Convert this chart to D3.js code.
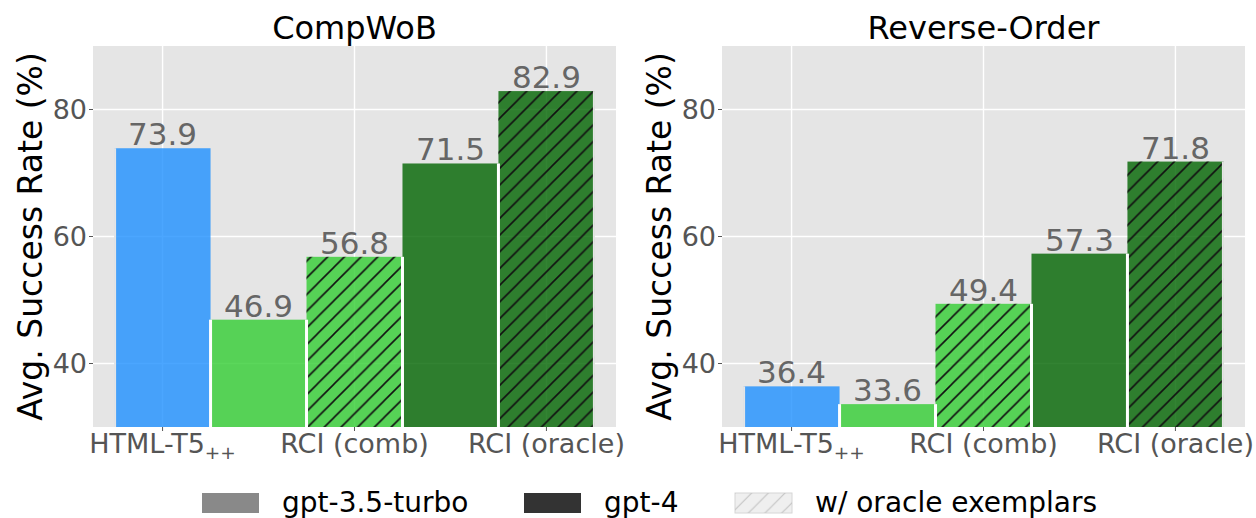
<!DOCTYPE html>
<html>
  <head>
    <meta charset="utf-8">
    <title>CompWoB vs Reverse-Order</title>
    <script src="https://d3js.org/d3.v7.min.js"></script>
    <style>
      body { margin: 0; background: #fff; }
      text { font-family: "DejaVu Sans", sans-serif; }
    </style>
  </head>
  <body>
  <div id="chart"></div>
  <script>

  // bars, in drawing order
  var bars = ["HTML-T5++", "RCI gpt-3.5 (comb)", "RCI gpt-3.5 (oracle)", "RCI gpt-4 (comb)", "RCI gpt-4 (oracle)"];
  var compwob = [73.9, 46.9, 56.8, 71.5, 82.9];
  var reverseOrder = [36.4, 33.6, 49.4, 57.3, 71.8];
  var barColors = ["#1e90ff", "#32cd32", "#32cd32", "#006400", "#006400"];
  var hatched = [false, false, true, false, true];

  var panelTitles = ["CompWoB", "Reverse-Order"];
  var tickPos = [0, 2, 4];
  var tickLabels = ["HTML-T5", "RCI (comb)", "RCI (oracle)"];
  var tickSubs = ["++", "", ""];
  var yTicks = [40, 60, 80];
  var legendLabels = ["gpt-3.5-turbo", "gpt-4", "w/ oracle exemplars"];

  var width = 1256, height = 518;
  var plotTop = 46, plotBottom = 427, plotW = 523;
  var panelLeft = [93, 722];

  var svg = d3.select("#chart").append("svg")
      .attr("width", width)
      .attr("height", height);

  var defs = svg.append("defs");
  // "/" hatch, about 17px apart horizontally
  var pat = defs.append("pattern")
      .attr("id", "hatch")
      .attr("patternUnits", "userSpaceOnUse")
      .attr("width", 16.7).attr("height", 16.7);
  pat.append("path")
      .attr("d", "M-2,2 L2,-2 M0,16.7 L16.7,0 M14.7,18.7 L18.7,14.7")
      .attr("stroke", "#111").attr("stroke-width", 1.6);

  var pat2 = defs.append("pattern")
      .attr("id", "hatchLight")
      .attr("patternUnits", "userSpaceOnUse")
      .attr("width", 16.7).attr("height", 16.7);
  pat2.append("path")
      .attr("d", "M-2,2 L2,-2 M0,16.7 L16.7,0 M14.7,18.7 L18.7,14.7")
      .attr("stroke", "#c4c4c4").attr("stroke-width", 1.2);

  var y = d3.scaleLinear().domain([30, 90]).range([plotBottom, plotTop]);

  [compwob, reverseOrder].forEach(function(values, p){

      var x = d3.scaleLinear().domain([-0.725, 4.725]).range([panelLeft[p], panelLeft[p] + plotW]);
      var unit = x(1) - x(0);
      var g = svg.append("g");

      g.append("rect")
          .attr("x", x.range()[0]).attr("y", plotTop)
          .attr("width", plotW).attr("height", plotBottom - plotTop)
          .attr("fill", "#e5e5e5");

      // grid
      g.selectAll(".hgrid").data(yTicks).enter().append("line")
          .attr("x1", x.range()[0]).attr("x2", x.range()[1])
          .attr("y1", function(d){ return y(d); }).attr("y2", function(d){ return y(d); })
          .attr("stroke", "#fff").attr("stroke-width", 1.4);
      g.selectAll(".vgrid").data(tickPos).enter().append("line")
          .attr("x1", function(d){ return x(d); }).attr("x2", function(d){ return x(d); })
          .attr("y1", plotTop).attr("y2", plotBottom)
          .attr("stroke", "#fff").attr("stroke-width", 1.4);

      // bars
      g.selectAll(".bar").data(values).enter().append("rect")
          .attr("x", function(d, i){ return x(i) - unit / 2; })
          .attr("y", function(d){ return y(d); })
          .attr("width", unit)
          .attr("height", function(d){ return plotBottom - y(d); })
          .attr("fill", function(d, i){ return barColors[i]; })
          .attr("fill-opacity", 0.8);

      g.selectAll(".hatch").data(values).enter().filter(function(d, i){ return hatched[i]; })
          .append("rect")
          .attr("x", function(d){ return x(values.indexOf(d)) - unit / 2; })
          .attr("y", function(d){ return y(d); })
          .attr("width", unit)
          .attr("height", function(d){ return plotBottom - y(d); })
          .attr("fill", "url(#hatch)");

      // white separators between neighbouring bars
      g.selectAll(".sep").data(values.slice(1)).enter().append("rect")
          .attr("x", function(d, i){ return x(i + 0.5) - 1.5; })
          .attr("y", function(d, i){ return y(Math.min(d, values[i])); })
          .attr("width", 3)
          .attr("height", function(d, i){ return plotBottom - y(Math.min(d, values[i])); })
          .attr("fill", "#fff");
      // outer edges
      g.selectAll(".edge").data([0, 4]).enter().append("rect")
          .attr("x", function(d){ return d === 0 ? x(-0.5) - 0.5 : x(4.5) - 1.5; })
          .attr("y", function(d){ return y(values[d]); })
          .attr("width", 2)
          .attr("height", function(d){ return plotBottom - y(values[d]); })
          .attr("fill", "#e5e5e5");

      // value labels
      g.selectAll(".val").data(values).enter().append("text")
          .attr("x", function(d, i){ return x(i); })
          .attr("y", function(d){ return y(d) - 3; })
          .attr("text-anchor", "middle")
          .attr("font-size", 31)
          .attr("fill", "#666")
          .text(function(d){ return d.toFixed(1); });

      // y ticks
      g.selectAll(".ytick").data(yTicks).enter().append("line")
          .attr("x1", x.range()[0] - 4).attr("x2", x.range()[0])
          .attr("y1", function(d){ return y(d); }).attr("y2", function(d){ return y(d); })
          .attr("stroke", "#555").attr("stroke-width", 1);
      g.selectAll(".ylab").data(yTicks).enter().append("text")
          .attr("x", x.range()[0] - 6)
          .attr("y", function(d){ return y(d) + 9.5; })
          .attr("text-anchor", "end")
          .attr("font-size", 27)
          .attr("fill", "#555")
          .text(function(d){ return d; });

      // x ticks
      g.selectAll(".xtick").data(tickPos).enter().append("line")
          .attr("x1", function(d){ return x(d); }).attr("x2", function(d){ return x(d); })
          .attr("y1", plotBottom).attr("y2", plotBottom + 4)
          .attr("stroke", "#555").attr("stroke-width", 1);
      var xl = g.selectAll(".xlab").data(tickPos).enter().append("text")
          .attr("x", function(d){ return x(d); })
          .attr("y", 453)
          .attr("text-anchor", "middle")
          .attr("font-size", 27)
          .attr("fill", "#555");
      xl.append("tspan").text(function(d, i){ return tickLabels[i]; });
      xl.append("tspan")
          .attr("dy", 6)
          .attr("font-size", 18.5)
          .text(function(d, i){ return tickSubs[i]; });

      // title and y label
      g.append("text")
          .attr("x", x.range()[0] + plotW / 2)
          .attr("y", 39)
          .attr("text-anchor", "middle")
          .attr("font-size", 32)
          .attr("fill", "#000")
          .text(panelTitles[p]);
      g.append("text")
          .attr("transform", "translate(" + (x.range()[0] - 51) + "," + ((plotTop + plotBottom) / 2) + ") rotate(-90)")
          .attr("text-anchor", "middle")
          .attr("font-size", 33)
          .attr("fill", "#000")
          .text("Avg. Success Rate (%)");
  });

  // legend
  var legX = [202, 524, 735];
  var legFill = ["#898989", "#333333", "#efefef"];
  var leg = svg.selectAll(".leg").data(legendLabels).enter().append("g")
      .attr("transform", function(d, i){ return "translate(" + legX[i] + ",493)"; });
  leg.append("rect")
      .attr("width", 57).attr("height", 20)
      .attr("fill", function(d, i){ return legFill[i]; })
      .attr("stroke", function(d, i){ return i === 2 ? "#d6d6d6" : "none"; });
  leg.filter(function(d, i){ return i === 2; }).append("rect")
      .attr("width", 57).attr("height", 20)
      .attr("fill", "url(#hatchLight)");
  leg.append("text")
      .attr("x", 80).attr("y", 19)
      .attr("font-size", 28)
      .attr("fill", "#000")
      .text(function(d){ return d; });

  </script>
  </body>
</html>
